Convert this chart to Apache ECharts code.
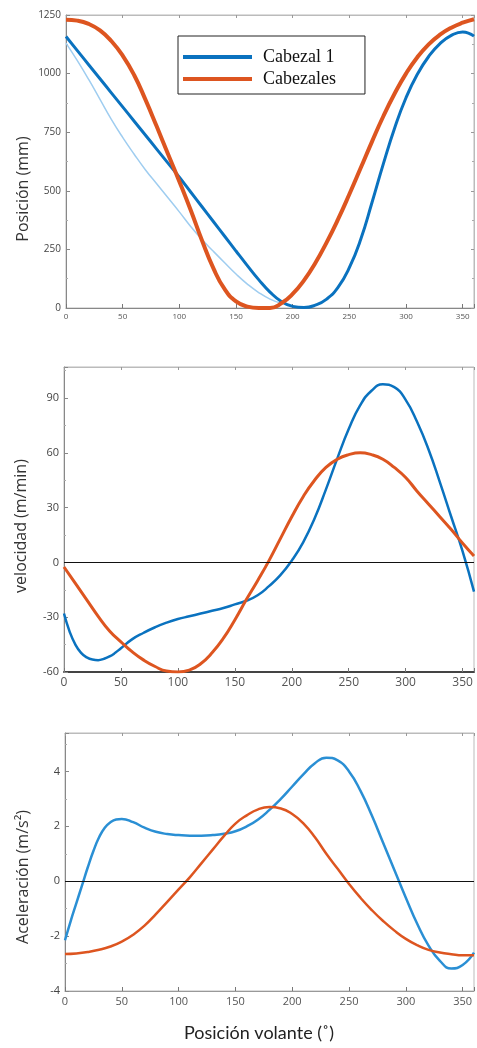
<!DOCTYPE html>
<html>
<head>
<meta charset="utf-8">
<script src="https://cdn.jsdelivr.net/npm/echarts@6/dist/echarts.min.js"></script>
<style>
html,body{margin:0;padding:0;background:#fff;}
#c{width:477px;height:1048px;}
</style>
</head>
<body>
<div id="c"></div>
<script>
// ---------- data ----------
const angles = [0,10,20,30,40,50,60,70,80,90,100,110,120,130,140,150,160,170,180,190,200,210,220,230,240,250,260,270,280,290,300,310,320,330,340,350,360];

// Position (mm)
const posCabezal1 = [1158,1098,1038,978,918,858,798,738,678,618,558,495,432,369,306,243,181,121,68,28,7,2,12,38,88,172,292,450,615,768,897,997,1073,1128,1163,1178,1160];
const posCabezales = [1230,1226,1212,1184,1139,1077,995,890,775,657,540,418,288,170,80,28,6,0,0,20,60,118,192,280,378,485,597,710,818,915,1000,1070,1125,1166,1196,1217,1232];
const anglesThin = [0,10,20,30,40,50,60,70,80,90,100,110,120,130,140,150,160,170,180,190];
const posCabezal1Thin = [1130,1055,975,890,805,728,657,590,530,470,410,348,292,242,193,145,102,66,38,20];

// Velocity (m/min)
const anglesFine = [0,5,10,15,20,25,30,35,40,45,50,60,70,80,90,100,110,120,130,140,150,160,170,180,190,200,210,220,230,240,250,260,270,280,290,300,310,320,330,340,350,360];
const velCabezal1 = [-28,-38,-45,-49.5,-52,-53.2,-53.5,-52.8,-51.5,-49.5,-47,-42,-38.5,-35.5,-33,-31,-29.5,-28,-26.5,-25,-23,-21,-18,-13,-7,1,11,24,40,57,73,86,94,97.5,96,89,77,62,44,25,6,-16];
const velCabezales = [-2.5,-11.5,-20.5,-29.5,-37.5,-43.5,-49,-53.5,-57,-59.5,-60,-59,-55.5,-49.5,-41.5,-31.5,-20.5,-10,1,13,25,36,45,52,56.5,59,60,59,56.5,52,46.5,39,32,25,18,10.5,3.5];

// Acceleration (m/s2)
const accCabezal1 = [-2.15,-1.45,-0.8,-0.15,0.5,1.1,1.6,1.95,2.15,2.25,2.27,2.15,1.95,1.8,1.72,1.68,1.66,1.66,1.68,1.73,1.82,2.0,2.25,2.6,3.0,3.45,3.9,4.3,4.5,4.4,4.0,3.3,2.4,1.4,0.4,-0.6,-1.55,-2.35,-2.9,-3.18,-3.05,-2.6];
const accCabezales = [-2.65,-2.63,-2.58,-2.5,-2.38,-2.2,-1.95,-1.62,-1.2,-0.75,-0.3,0.15,0.65,1.15,1.65,2.1,2.4,2.62,2.7,2.65,2.45,2.1,1.6,1.0,0.45,-0.1,-0.6,-1.05,-1.45,-1.8,-2.1,-2.33,-2.5,-2.6,-2.66,-2.7,-2.7];

// tick labels
const xTicks = [0,50,100,150,200,250,300,350];
const posTicks = [0,250,500,750,1000,1250];
const velTicks = [-60,-30,0,30,60,90];
const accTicks = [-4,-2,0,2,4];

// ---------- helpers ----------
const pairs = (xs, ys) => xs.map((x, i) => [x, ys[i]]);
const fmt = ticks => v => ticks.indexOf(v) >= 0 ? String(v) : '';
const BLUE = '#0a72bf', ORANGE = '#dd5520', LIGHT = '#9fcdf0', BLUE2 = '#2a8fd4';
const SMOOTH = 0.5;

function xAxisBottom(grid, size, lineColor, lineWidth) {
  return {
    type: 'value', gridIndex: grid, min: 0, max: 360, interval: 50, position: 'bottom',
    axisLine: { show: true, onZero: false, lineStyle: { color: lineColor, width: lineWidth } },
    axisTick: { show: true, inside: true, length: 4, lineStyle: { color: '#777' } },
    axisLabel: { formatter: fmt(xTicks), color: '#555', fontSize: size, fontFamily: 'Open Sans', margin: 5 },
    splitLine: { show: false }
  };
}
function xAxisTop(grid) {
  return {
    type: 'value', gridIndex: grid, min: 0, max: 360, interval: 50, position: 'top',
    axisLine: { show: true, onZero: false, lineStyle: { color: '#bbb' } },
    axisTick: { show: true, inside: true, length: 3, lineStyle: { color: '#999' } },
    axisLabel: { show: false }, splitLine: { show: false }
  };
}
function yAxisLeft(grid, min, max, interval, ticks, size) {
  return {
    type: 'value', gridIndex: grid, min: min, max: max, interval: interval, position: 'left',
    axisLine: { show: true, onZero: false, lineStyle: { color: '#888' } },
    axisTick: { show: true, inside: true, length: 4, lineStyle: { color: '#888' } },
    minorTick: { show: true, splitNumber: 2, length: 2, lineStyle: { color: '#aaa' } },
    axisLabel: { formatter: fmt(ticks), color: '#444', fontSize: size, fontFamily: 'Open Sans', margin: 5 },
    splitLine: { show: false }
  };
}

const zeroLine = {
  silent: true, symbol: 'none', label: { show: false },
  lineStyle: { color: '#111', width: 1, type: 'solid' },
  data: [{ yAxis: 0 }]
};

const option = {
  animation: false,
  backgroundColor: '#fff',
  grid: [
    { left: 66, top: 15, width: 410, height: 293, show: true, borderColor: '#bbb', borderWidth: 1 },
    { left: 64, top: 367, width: 417, height: 305, show: true, borderColor: '#bbb', borderWidth: 1 },
    { left: 65, top: 733, width: 414, height: 258, show: true, borderColor: '#bbb', borderWidth: 1 }
  ],
  xAxis: [
    xAxisBottom(0, 8, '#888', 1),
    xAxisBottom(1, 12, '#444', 2),
    xAxisBottom(2, 11, '#999', 1),
    xAxisTop(0), xAxisTop(1), xAxisTop(2)
  ],
  yAxis: [
    yAxisLeft(0, 0, 1250, 250, posTicks, 10),
    yAxisLeft(1, -60, 107, 30, velTicks, 11),
    yAxisLeft(2, -4, 5.4, 2, accTicks, 11),
    {
      type: 'value', gridIndex: 0, min: 0, max: 1250, interval: 250, position: 'right',
      axisLine: { show: true, onZero: false, lineStyle: { color: '#bbb' } },
      axisTick: { show: true, inside: true, length: 3, lineStyle: { color: '#999' } },
      minorTick: { show: true, splitNumber: 2, length: 2, lineStyle: { color: '#aaa' } },
      axisLabel: { show: false }, splitLine: { show: false }
    }
  ],
  legend: {
    data: ['Cabezal 1', 'Cabezales'],
    orient: 'vertical', left: 178, top: 36,
    icon: 'rect',
    padding: [12, 29, 6, 5], itemGap: 4, itemWidth: 69, itemHeight: 4,
    borderColor: '#222', borderWidth: 1, backgroundColor: '#fff',
    textStyle: { fontFamily: 'Liberation Serif', fontSize: 18, color: '#111', padding: [0, 0, 0, 6], lineHeight: 17 }
  },
  graphic: [
    { type: 'text', x: 23, y: 189, rotation: Math.PI / 2,
      style: { text: 'Posición (mm)', fontSize: 16, fontFamily: 'Open Sans', fill: '#333', align: 'center', verticalAlign: 'middle' } },
    { type: 'text', x: 21, y: 526, rotation: Math.PI / 2,
      style: { text: 'velocidad (m/min)', fontSize: 16, fontFamily: 'Open Sans', fill: '#333', align: 'center', verticalAlign: 'middle' } },
    { type: 'text', x: 23, y: 877, rotation: Math.PI / 2,
      style: { text: 'Aceleración (m/s²)', fontSize: 16, fontFamily: 'Open Sans', fill: '#333', align: 'center', verticalAlign: 'middle' } },
    { type: 'text', x: 259, y: 1033,
      style: { text: 'Posición volante (˚)', fontSize: 18, fontFamily: 'Lato', fill: '#222', align: 'center', verticalAlign: 'middle' } }
  ],
  series: [
    { name: 'Cabezal 1 (fino)', type: 'line', xAxisIndex: 0, yAxisIndex: 0, data: pairs(anglesThin, posCabezal1Thin),
      smooth: SMOOTH, symbol: 'none', lineStyle: { color: LIGHT, width: 1.5 }, itemStyle: { color: LIGHT }, z: 2 },
    { name: 'Cabezal 1', type: 'line', xAxisIndex: 0, yAxisIndex: 0, data: pairs(angles, posCabezal1),
      smooth: SMOOTH, symbol: 'none', lineStyle: { color: BLUE, width: 3 }, itemStyle: { color: BLUE }, z: 3 },
    { name: 'Cabezales', type: 'line', xAxisIndex: 0, yAxisIndex: 0, data: pairs(angles, posCabezales),
      smooth: SMOOTH, symbol: 'none', lineStyle: { color: ORANGE, width: 4 }, itemStyle: { color: ORANGE }, z: 4 },

    { name: 'Cabezal 1', type: 'line', xAxisIndex: 1, yAxisIndex: 1, data: pairs(anglesFine, velCabezal1),
      smooth: SMOOTH, symbol: 'none', lineStyle: { color: BLUE, width: 2.5 }, itemStyle: { color: BLUE }, z: 3,
      markLine: zeroLine },
    { name: 'Cabezales', type: 'line', xAxisIndex: 1, yAxisIndex: 1, data: pairs(angles, velCabezales),
      smooth: SMOOTH, symbol: 'none', lineStyle: { color: ORANGE, width: 3 }, itemStyle: { color: ORANGE }, z: 4 },

    { name: 'Cabezal 1', type: 'line', xAxisIndex: 2, yAxisIndex: 2, data: pairs(anglesFine, accCabezal1),
      smooth: SMOOTH, symbol: 'none', lineStyle: { color: BLUE2, width: 2.5 }, itemStyle: { color: BLUE2 }, z: 3,
      markLine: zeroLine },
    { name: 'Cabezales', type: 'line', xAxisIndex: 2, yAxisIndex: 2, data: pairs(angles, accCabezales),
      smooth: SMOOTH, symbol: 'none', lineStyle: { color: ORANGE, width: 2.5 }, itemStyle: { color: ORANGE }, z: 4 }
  ]
};

const chart = echarts.init(document.getElementById('c'), null, { renderer: 'canvas' });
chart.setOption(option);
</script>
</body>
</html>
